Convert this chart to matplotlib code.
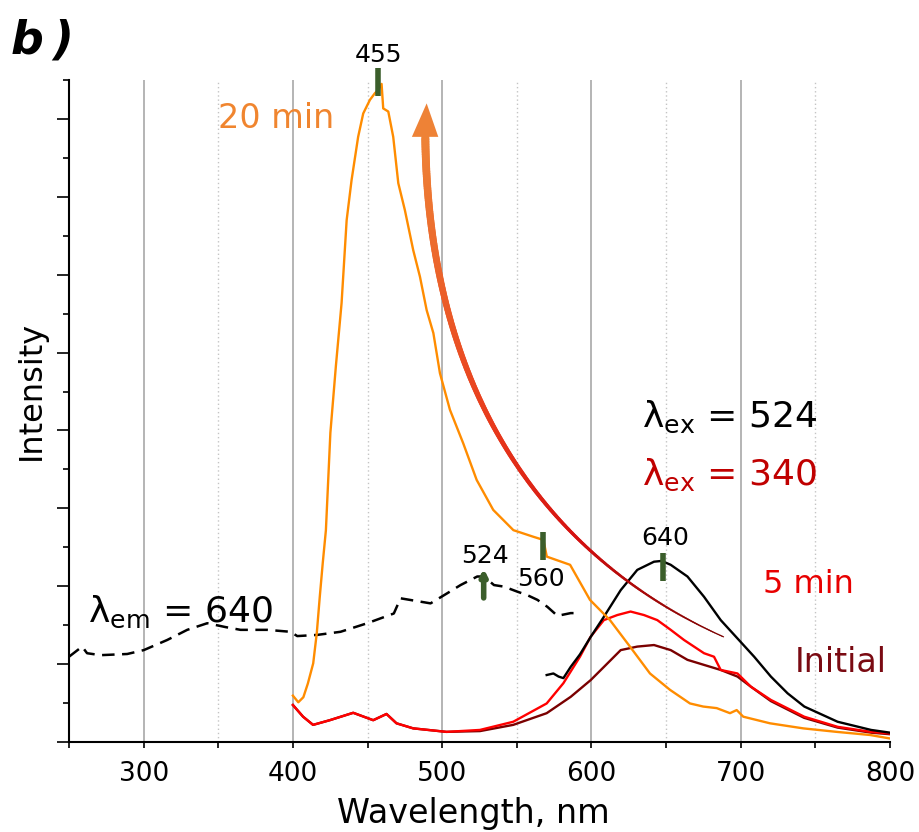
import numpy as np
import matplotlib
matplotlib.use("Agg")
import matplotlib.pyplot as plt
from matplotlib.collections import LineCollection
from matplotlib.colors import LinearSegmentedColormap
from matplotlib.patches import Polygon

plt.rcParams['font.family'] = ['DejaVu Sans']
plt.rcParams['mathtext.fontset'] = 'dejavusans'

# ---------------- data (wavelength nm, intensity a.u.) ----------------
wl_20min = [400, 403.6, 407, 410, 413.6, 416, 418, 420, 422.1, 425.1, 428.8, 432.6, 436.0,
            439.3, 443.7, 447.1, 451.6, 454.9, 457, 459.4, 460.5, 463.9, 467.2, 470.6, 475.0,
            480.6, 485.1, 489.6, 494.1, 498.5, 505.2, 514.1, 523.1, 534.2, 547.7, 561.1,
            567.8, 570.1, 585.7, 599.0, 612.4, 625.8, 639.2, 652.6, 666.0, 674.9, 683.9,
            692.8, 697.3, 701.7, 719.6, 741.9, 764.3, 786.6, 800]
int_20min = [1.19, 1.02, 1.15, 1.5, 2.02, 2.8, 3.73, 4.6, 5.44, 7.94, 9.66, 11.27, 13.40,
             14.43, 15.54, 16.14, 16.49, 16.66, 16.74, 16.9, 16.27, 16.19, 15.54, 14.35, 13.66,
             12.63, 11.95, 11.09, 10.50, 9.47, 8.53, 7.67, 6.73, 5.96, 5.44, 5.27,
             5.19, 4.76, 4.55, 3.65, 3.13, 2.45, 1.76, 1.34, 0.99, 0.91, 0.87,
             0.74, 0.82, 0.65, 0.48, 0.35, 0.26, 0.18, 0.09]

wl_5min = [400, 406.8, 413.5, 424.7, 440.4, 453.8, 462.7, 469.4, 480.6, 502.9, 525.3, 547.6,
           570, 581.2, 592.3, 599.4, 608.3, 617.3, 626.2, 635.2, 644.1, 653.1, 662, 675.4,
           682.1, 686.6, 697.8, 706.8, 720.2, 742.5, 764.9, 787.3, 800]
int_5min = [0.95, 0.65, 0.44, 0.56, 0.75, 0.56, 0.72, 0.48, 0.35, 0.26, 0.31, 0.52,
            0.99, 1.51, 2.19, 2.70, 3.13, 3.26, 3.35, 3.26, 3.13, 2.88, 2.62, 2.28,
            2.19, 1.85, 1.76, 1.42, 1.08, 0.65, 0.39, 0.26, 0.22]

wl_init = [400, 406.8, 413.5, 424.7, 440.4, 453.8, 462.7, 469.4, 480.6, 502.9, 525.3, 547.6,
           570, 586.1, 599.5, 608.4, 619.6, 630.7, 641.9, 653.1, 664.3, 675.4, 686.6, 697.8,
           706.8, 720.2, 742.5, 764.9, 787.3, 800]
int_init = [0.95, 0.65, 0.44, 0.56, 0.75, 0.56, 0.72, 0.48, 0.35, 0.26, 0.28, 0.44,
            0.74, 1.16, 1.59, 1.93, 2.36, 2.45, 2.49, 2.36, 2.11, 1.98, 1.85, 1.68,
            1.42, 1.05, 0.62, 0.37, 0.24, 0.20]

wl_ex524 = [570, 574.5, 578, 581.2, 586.1, 592.3, 599.5, 608.4, 619.6, 630.7, 641.9, 647,
            653.1, 664.3, 675.4, 686.6, 697.8, 709, 720.2, 731.4, 742.6, 764.9, 787.3, 800]
int_ex524 = [1.72, 1.76, 1.68, 1.64, 1.93, 2.25, 2.70, 3.22, 3.90, 4.42, 4.63, 4.65,
             4.55, 4.25, 3.73, 3.13, 2.66, 2.19, 1.68, 1.25, 0.91, 0.52, 0.31, 0.24]

wl_excit = [250, 258.8, 262.1, 271.1, 289, 300.1, 315.8, 329.2, 342.6, 355, 364.9, 382.8,
            398.4, 402.9, 416.3, 431.9, 449.8, 467.6, 472.1, 492.2, 503.4, 512.3, 523.5,
            528, 534.7, 541.4, 550.4, 557.1, 563.8, 570.5, 577.2, 586.1, 588]
int_excit = [2.19, 2.45, 2.28, 2.23, 2.26, 2.36, 2.62, 2.88, 3.05, 2.95, 2.88, 2.88,
             2.83, 2.72, 2.75, 2.83, 3.05, 3.30, 3.69, 3.56, 3.82, 4.03, 4.25,
             4.25, 4.03, 3.99, 3.86, 3.77, 3.65, 3.47, 3.24, 3.31, 3.31]

peak_labels = ["455", "524", "560", "640"]
x_ticks = [300, 400, 500, 600, 700, 800]
x_tick_labels = ["300", "400", "500", "600", "700", "800"]

# ---------------- figure ----------------
fig = plt.figure(figsize=(9.2, 8.32), dpi=100)
ax = fig.add_axes([69/920, 1-742/832, (890-69)/920, (742-80)/832])
ax.set_xlim(250, 800)
ax.set_ylim(0, 17)

# grid
for g in [300, 400, 500, 600, 700]:
    ax.axvline(g, color='#a8a8a8', lw=1.2, zorder=0)
for g in [350, 450, 550, 650, 750]:
    ax.axvline(g, color='#c4c4c4', lw=1.0, ls=(0, (1, 2)), zorder=0)

GREEN = '#3b5e2b'
ORANGE = '#ff8c00'
RED = '#ff0000'
DRED = '#7a0000'

ax.plot(wl_init, int_init, color=DRED, lw=1.7, zorder=3)
ax.plot(wl_5min, int_5min, color=RED, lw=1.7, zorder=4)
ax.plot(wl_ex524, int_ex524, color='black', lw=1.7, zorder=5)
ax.plot(wl_20min, int_20min, color=ORANGE, lw=1.7, zorder=6)
ax.plot(wl_excit, int_excit, color='black', lw=1.8, ls=(0, (5, 3)), zorder=5)

# gradient curved arrow
P0 = np.array([688.5, 2.70]); P1 = np.array([566.2, 4.80])
P2 = np.array([490.5, 9.12]); P3 = np.array([488.7, 15.54])
t = np.linspace(0, 1, 300)[:, None]
B = (1-t)**3*P0 + 3*(1-t)**2*t*P1 + 3*(1-t)*t**2*P2 + t**3*P3
segs = np.stack([B[:-1], B[1:]], axis=1)
tm = t[:-1, 0]
widths = (1.2 + 6.8*tm) * 0.72
cmap = LinearSegmentedColormap.from_list('arr', [(0, '#7a0000'), (0.3, '#d41010'),
                                                 (0.55, '#e83a1c'), (1.0, '#ee8236')])
lc = LineCollection(segs, colors=cmap(tm), linewidths=widths, capstyle='round', zorder=7)
ax.add_collection(lc)
head = Polygon([[489.6, 16.40], [479.7, 15.54], [497.4, 15.54]], closed=True,
               facecolor='#ee8236', edgecolor='none', zorder=8)
ax.add_patch(head)

# peak markers
ax.plot([457, 457], [16.59, 17.31], color=GREEN, lw=4, solid_capstyle='butt', zorder=9, clip_on=False)
ax.plot([567.6, 567.6], [4.67, 5.39], color=GREEN, lw=4, solid_capstyle='butt', zorder=9)
ax.plot([647.8, 647.8], [4.13, 4.85], color=GREEN, lw=4, solid_capstyle='butt', zorder=9)
ax.annotate('', xy=(527.8, 4.45), xytext=(527.8, 3.70),
            arrowprops=dict(arrowstyle='-|>,head_length=0.35,head_width=0.18', color=GREEN, lw=4,
                            shrinkA=0, shrinkB=0), zorder=9)

lab_kw = dict(fontsize=18, ha='center', va='center', color='black', zorder=10)
ax.text(457.5, 17.64, peak_labels[0], clip_on=False, **lab_kw)
ax.text(528.9, 4.78, peak_labels[1], **lab_kw)
ax.text(566.4, 4.18, peak_labels[2], **lab_kw)
ax.text(649.3, 5.24, peak_labels[3], **lab_kw)

# annotations
ax.text(349.7, 15.77, '20 min', color='#f0852f', fontsize=24, ha='left', va='baseline')
ax.text(715.1, 3.82, '5 min', color='#e80000', fontsize=23, ha='left', va='baseline')
ax.text(736.5, 1.81, 'Initial', color='#7a0a12', fontsize=24, ha='left', va='baseline')
ax.text(262.6, 3.09, 'λ$_\\mathregular{em}$ = 640', color='black', fontsize=26, ha='left', va='baseline', zorder=10)
ax.text(633.6, 8.10, 'λ$_\\mathregular{ex}$ = 524', color='black', fontsize=26, ha='left', va='baseline')
ax.text(633.6, 6.60, 'λ$_\\mathregular{ex}$ = 340', color='#c00000', fontsize=26, ha='left', va='baseline')

# axes styling
for s in ['top', 'right']:
    ax.spines[s].set_visible(False)
for s in ['left', 'bottom']:
    ax.spines[s].set_linewidth(1.5)
ax.set_xticks(x_ticks)
ax.set_xticklabels(x_tick_labels)
ax.set_xticks([250, 350, 450, 550, 650, 750], minor=True)
ax.set_yticks(np.arange(0, 17, 2))
ax.set_yticks(np.arange(1, 18, 2), minor=True)
ax.set_yticklabels([])
ax.tick_params(axis='x', which='both', direction='out', length=4.5, width=1.2, labelsize=19, pad=9)
ax.tick_params(axis='y', which='major', direction='out', length=8.6, width=1.2)
ax.tick_params(axis='y', which='minor', direction='out', length=4.3, width=1.2)

fig.text(473/920, 1-823/832, 'Wavelength, nm', fontsize=24, ha='center', va='baseline')
fig.text(31/920, 1-390/832, 'Intensity', fontsize=23, rotation=90, ha='center', va='center')
fig.text(11/920, 1-53/832, 'b\u2009)', fontsize=33, fontweight='bold', fontstyle='italic', ha='left', va='baseline')

fig.savefig('out.png', dpi=100)
